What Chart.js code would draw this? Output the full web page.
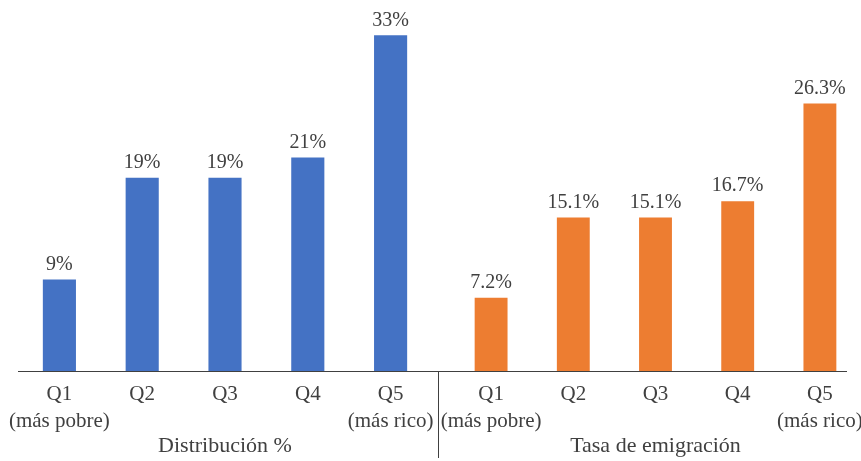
<!DOCTYPE html>
<html>
<head>
<meta charset="utf-8">
<script src="https://cdn.jsdelivr.net/npm/chart.js@4"></script>
<style>
  body { margin: 0; background: #fff; }
  #wrap { position: relative; width: 861px; height: 461px; }
  .box { position: absolute; top: 0; height: 461px; }
  #left-box { left: 0; width: 439px; }
  #right-box { left: 439px; width: 422px; }
</style>
</head>
<body>
<div id="wrap">
  <div class="box" id="left-box"><canvas id="dist-chart"></canvas></div>
  <div class="box" id="right-box"><canvas id="emig-chart"></canvas></div>
</div>
<script>
// quintile labels shared by both panels
const quintiles = [["Q1", "(más pobre)"], ["Q2"], ["Q3"], ["Q4"], ["Q5", "(más rico)"]];
const distribution = [9, 19, 19, 21, 33];
const emigration = [7.2, 15.1, 15.1, 16.7, 26.3];
const distDecimals = 0;
const emigDecimals = 1;

const FONT = "'Liberation Serif', 'Times New Roman', serif";
const TEXT = "#404040";

// value labels above each bar
const valueLabels = {
  id: "valueLabels",
  afterDatasetsDraw(chart, args, opts) {
    const ctx = chart.ctx;
    const meta = chart.getDatasetMeta(0);
    ctx.save();
    ctx.font = "20px " + FONT;
    ctx.fillStyle = TEXT;
    ctx.textAlign = "center";
    ctx.textBaseline = "bottom";
    meta.data.forEach((bar, i) => {
      const v = chart.data.datasets[0].data[i];
      ctx.fillText(v.toFixed(opts.decimals) + "%", bar.x, bar.y - 5);
    });
    ctx.restore();
  }
};

// axis line across both panels + vertical divider between groups
const divider = {
  id: "divider",
  afterDraw(chart, args, opts) {
    const ctx = chart.ctx;
    const area = chart.chartArea;
    const y = Math.round(area.bottom) + 0.5;
    ctx.save();
    ctx.strokeStyle = TEXT;
    ctx.lineWidth = 1;
    ctx.beginPath();
    if (opts.side === "left") {
      ctx.moveTo(area.left, y);
      ctx.lineTo(chart.width, y);
      ctx.moveTo(chart.width - 0.5, area.bottom);
      ctx.lineTo(chart.width - 0.5, chart.height - 3);
    } else {
      ctx.moveTo(0, y);
      ctx.lineTo(area.right - 14, y);
    }
    ctx.stroke();
    ctx.restore();
  }
};

function makeChart(id, values, color, title, decimals, pad, side) {
  return new Chart(document.getElementById(id), {
    type: "bar",
    data: {
      labels: quintiles,
      datasets: [{
        data: values,
        backgroundColor: color,
        categoryPercentage: 0.8,
        barPercentage: 0.5
      }]
    },
    options: {
      responsive: true,
      maintainAspectRatio: false,
      animation: false,
      layout: { padding: pad },
      plugins: {
        legend: { display: false },
        tooltip: { enabled: false },
        valueLabels: { decimals },
        divider: { side }
      },
      scales: {
        x: {
          grid: { display: false },
          border: { display: false },
          ticks: {
            color: TEXT,
            padding: 2,
            maxRotation: 0,
            autoSkip: false,
            font: { family: FONT, size: 21, lineHeight: 1.3 }
          },
          title: {
            display: true,
            text: title,
            color: TEXT,
            padding: { top: 0, bottom: 2 },
            font: { family: FONT, size: 22, lineHeight: 1.2 }
          },
          afterFit: (scale) => {
            scale.height = 90;
            scale.paddingLeft = 0;
            scale.paddingRight = 0;
          }
        },
        y: { display: false, min: 0, max: 35 }
      }
    },
    plugins: [valueLabels, divider]
  });
}

makeChart("dist-chart", distribution, "#4472C4", "Distribución %", distDecimals,
  { top: 15, left: 18, right: 7, bottom: 0 }, "left");
makeChart("emig-chart", emigration, "#ED7D31", "Tasa de emigración", emigDecimals,
  { top: 15, left: 11, right: 0, bottom: 0 }, "right");
</script>
</body>
</html>
